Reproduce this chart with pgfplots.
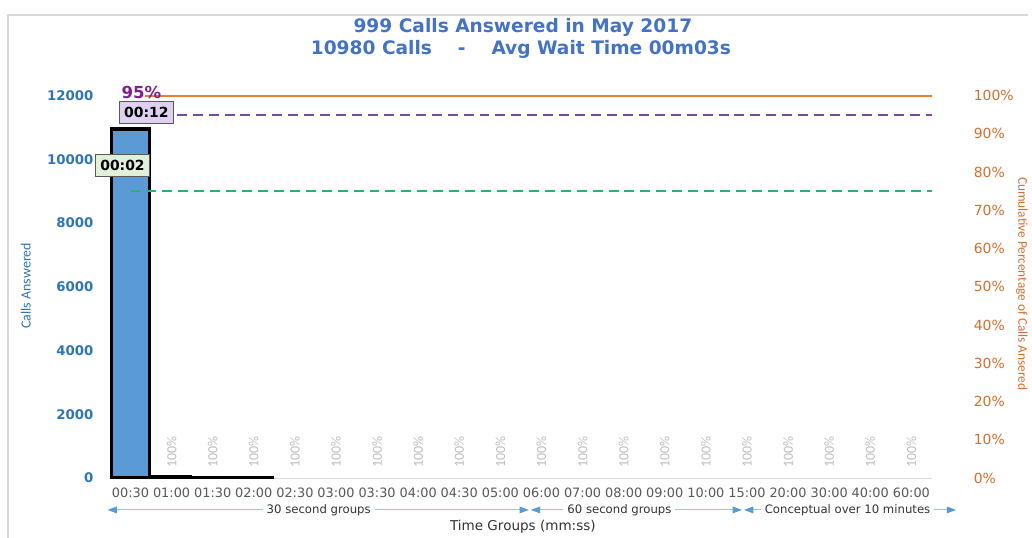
\documentclass[border=0pt]{standalone}
\usepackage{pgfplots}
\pgfplotsset{compat=1.18}
\usepackage{fontspec}
\setmainfont{Carlito}
\newfontfamily\dejavu{DejaVu Sans}
\usetikzlibrary{calc,arrows.meta}
\definecolor{titleblue}{RGB}{68,114,196}
\definecolor{lblue}{RGB}{46,117,182}
\definecolor{barblue}{RGB}{91,155,213}
\definecolor{orng}{RGB}{237,125,49}
\definecolor{orngtxt}{RGB}{214,110,45}
\definecolor{purp}{RGB}{128,32,140}
\definecolor{purpline}{RGB}{112,48,160}
\definecolor{grn}{RGB}{40,180,110}
\definecolor{tickgray}{RGB}{89,89,89}
\definecolor{axgray}{RGB}{217,217,217}
\definecolor{lavender}{RGB}{224,208,240}
\definecolor{lgreen}{RGB}{226,240,217}
\definecolor{arrline}{RGB}{157,195,230}
\definecolor{arrhead}{RGB}{91,155,213}
\begin{document}
\begin{tikzpicture}
\begin{scope}[shift={(-82.8pt,360pt)}, x=0.75pt, y=-0.75pt]
\useasboundingbox (0,0) rectangle (1032,540);
\fill[white] (0,0) rectangle (1032,540);
\draw[axgray, line width=1pt] (8,540) -- (8,15) -- (1032,15);
\end{scope}

\begin{axis}[name=ax, at={(0,0)}, anchor=south west, scale only axis,
  width=619pt, height=288pt,
  xmin=-0.5, xmax=19.5, ymin=0, ymax=12000,
  axis lines*=left,
  y axis line style={draw=none},
  x axis line style={draw=axgray, line width=0.8pt, -},
  xtick={0,...,19},
  xticklabels={00:30,01:00,01:30,02:00,02:30,03:00,03:30,04:00,04:30,05:00,06:00,07:00,08:00,09:00,10:00,15:00,20:00,30:00,40:00,60:00},
  xticklabel style={font=\dejavu\fontsize{9.7}{11}\selectfont, text=tickgray, yshift=-4pt},
  ytick={0,2000,...,12000},
  scaled y ticks=false,
  yticklabel style={font=\dejavu\bfseries\fontsize{10}{12}\selectfont, text=lblue, xshift=-9pt},
  /pgf/number format/1000 sep={},
  /pgf/number format/assume math mode=true,
  tick style={draw=none},
]
\addplot[ybar, bar width=28.5pt, fill=barblue, draw=black, line width=2.5pt] coordinates {(0,10950) (1,40) (2,12) (3,6)};
\end{axis}

\begin{axis}[at={(0,0)}, anchor=south west, scale only axis,
  width=619pt, height=288pt,
  xmin=-0.5, xmax=19.5, ymin=0, ymax=100,
  axis y line*=right, axis x line=none,
  y axis line style={draw=none},
  ytick={0,10,...,100},
  yticklabel={\pgfmathprintnumber{\tick}\%},
  yticklabel style={font=\dejavu\fontsize{10.5}{12}\selectfont, text=orngtxt, anchor=west, xshift=28pt},
  /pgf/number format/assume math mode=true,
  tick style={draw=none},
  clip=false,
]
\addplot[orng, line width=1.5pt] coordinates {(0.35,100) (19.5,100)};
\addplot[purpline!90, line width=1.5pt, dash pattern=on 7.5pt off 4.5pt] coordinates {(0.35,95) (19.5,95)};
\addplot[grn, line width=1.5pt, dash pattern=on 7.5pt off 4.5pt] coordinates {(0,75) (19.5,75)};
\pgfplotsinvokeforeach{1,...,19}{
  \node[rotate=90, anchor=west, text=black!25, font=\fontsize{10.5}{12}\selectfont, inner sep=0pt] at (axis cs:#1,2.6) {100\%};
}
\end{axis}

\begin{scope}[shift={(-82.8pt,360pt)}, x=0.75pt, y=-0.75pt]
\node[text=titleblue, font=\dejavu\bfseries\fontsize{14}{16}\selectfont] at (525,28) {999 Calls Answered in May 2017};
\node[text=titleblue, font=\dejavu\bfseries\fontsize{14}{16}\selectfont] at (523,50) {10980 Calls\ \ \ \ -\ \ \ \ Avg Wait Time 00m03s};
\node[text=purp, font=\dejavu\bfseries\fontsize{12.5}{14}\selectfont] at (142,93) {95\%};
\node[fill=lavender, draw=tickgray, line width=0.8pt, inner xsep=3.5pt, inner ysep=2.5pt, font=\dejavu\bfseries\fontsize{10.5}{12}\selectfont, minimum height=16.5pt] at (147,113) {00:12};
\node[fill=lgreen, draw=tickgray, line width=0.8pt, inner xsep=3.5pt, inner ysep=2.5pt, font=\dejavu\bfseries\fontsize{10.5}{12}\selectfont, minimum height=16.5pt] at (123,166) {00:02};
\node[rotate=90, text=lblue, font=\fontsize{10.5}{12}\selectfont] at (26,287) {Calls Answered};
\node[rotate=-90, text=orngtxt, font=\fontsize{10}{12}\selectfont] at (1026,285) {Cumulative Percentage of Calls Ansered};
% group arrows
\draw[arrline, line width=0.8pt, {Triangle[length=7pt,width=5pt,fill=arrhead,color=arrhead]}-{Triangle[length=7pt,width=5pt,fill=arrhead,color=arrhead]}] (108,512) -- (531,512);
\draw[arrline, line width=0.8pt, {Triangle[length=7pt,width=5pt,fill=arrhead,color=arrhead]}-{Triangle[length=7pt,width=5pt,fill=arrhead,color=arrhead]}] (533,512) -- (745,512);
\draw[arrline, line width=0.8pt, {Triangle[length=7pt,width=5pt,fill=arrhead,color=arrhead]}-{Triangle[length=7pt,width=5pt,fill=arrhead,color=arrhead]}] (747,512) -- (960,512);
\node[fill=white, inner xsep=3pt, inner ysep=1pt, text=black!80, font=\dejavu\fontsize{8.8}{10}\selectfont] at (320,512) {30 second groups};
\node[fill=white, inner xsep=3pt, inner ysep=1pt, text=black!80, font=\dejavu\fontsize{8.8}{10}\selectfont] at (622,512) {60 second groups};
\node[fill=white, inner xsep=3pt, inner ysep=1pt, text=black!80, font=\dejavu\fontsize{8.8}{10}\selectfont] at (851,512) {Conceptual over 10 minutes};
\node[text=black!80, font=\dejavu\fontsize{10.2}{12}\selectfont] at (525,529) {Time Groups (mm:ss)};
\end{scope}
\end{tikzpicture}
\end{document}
